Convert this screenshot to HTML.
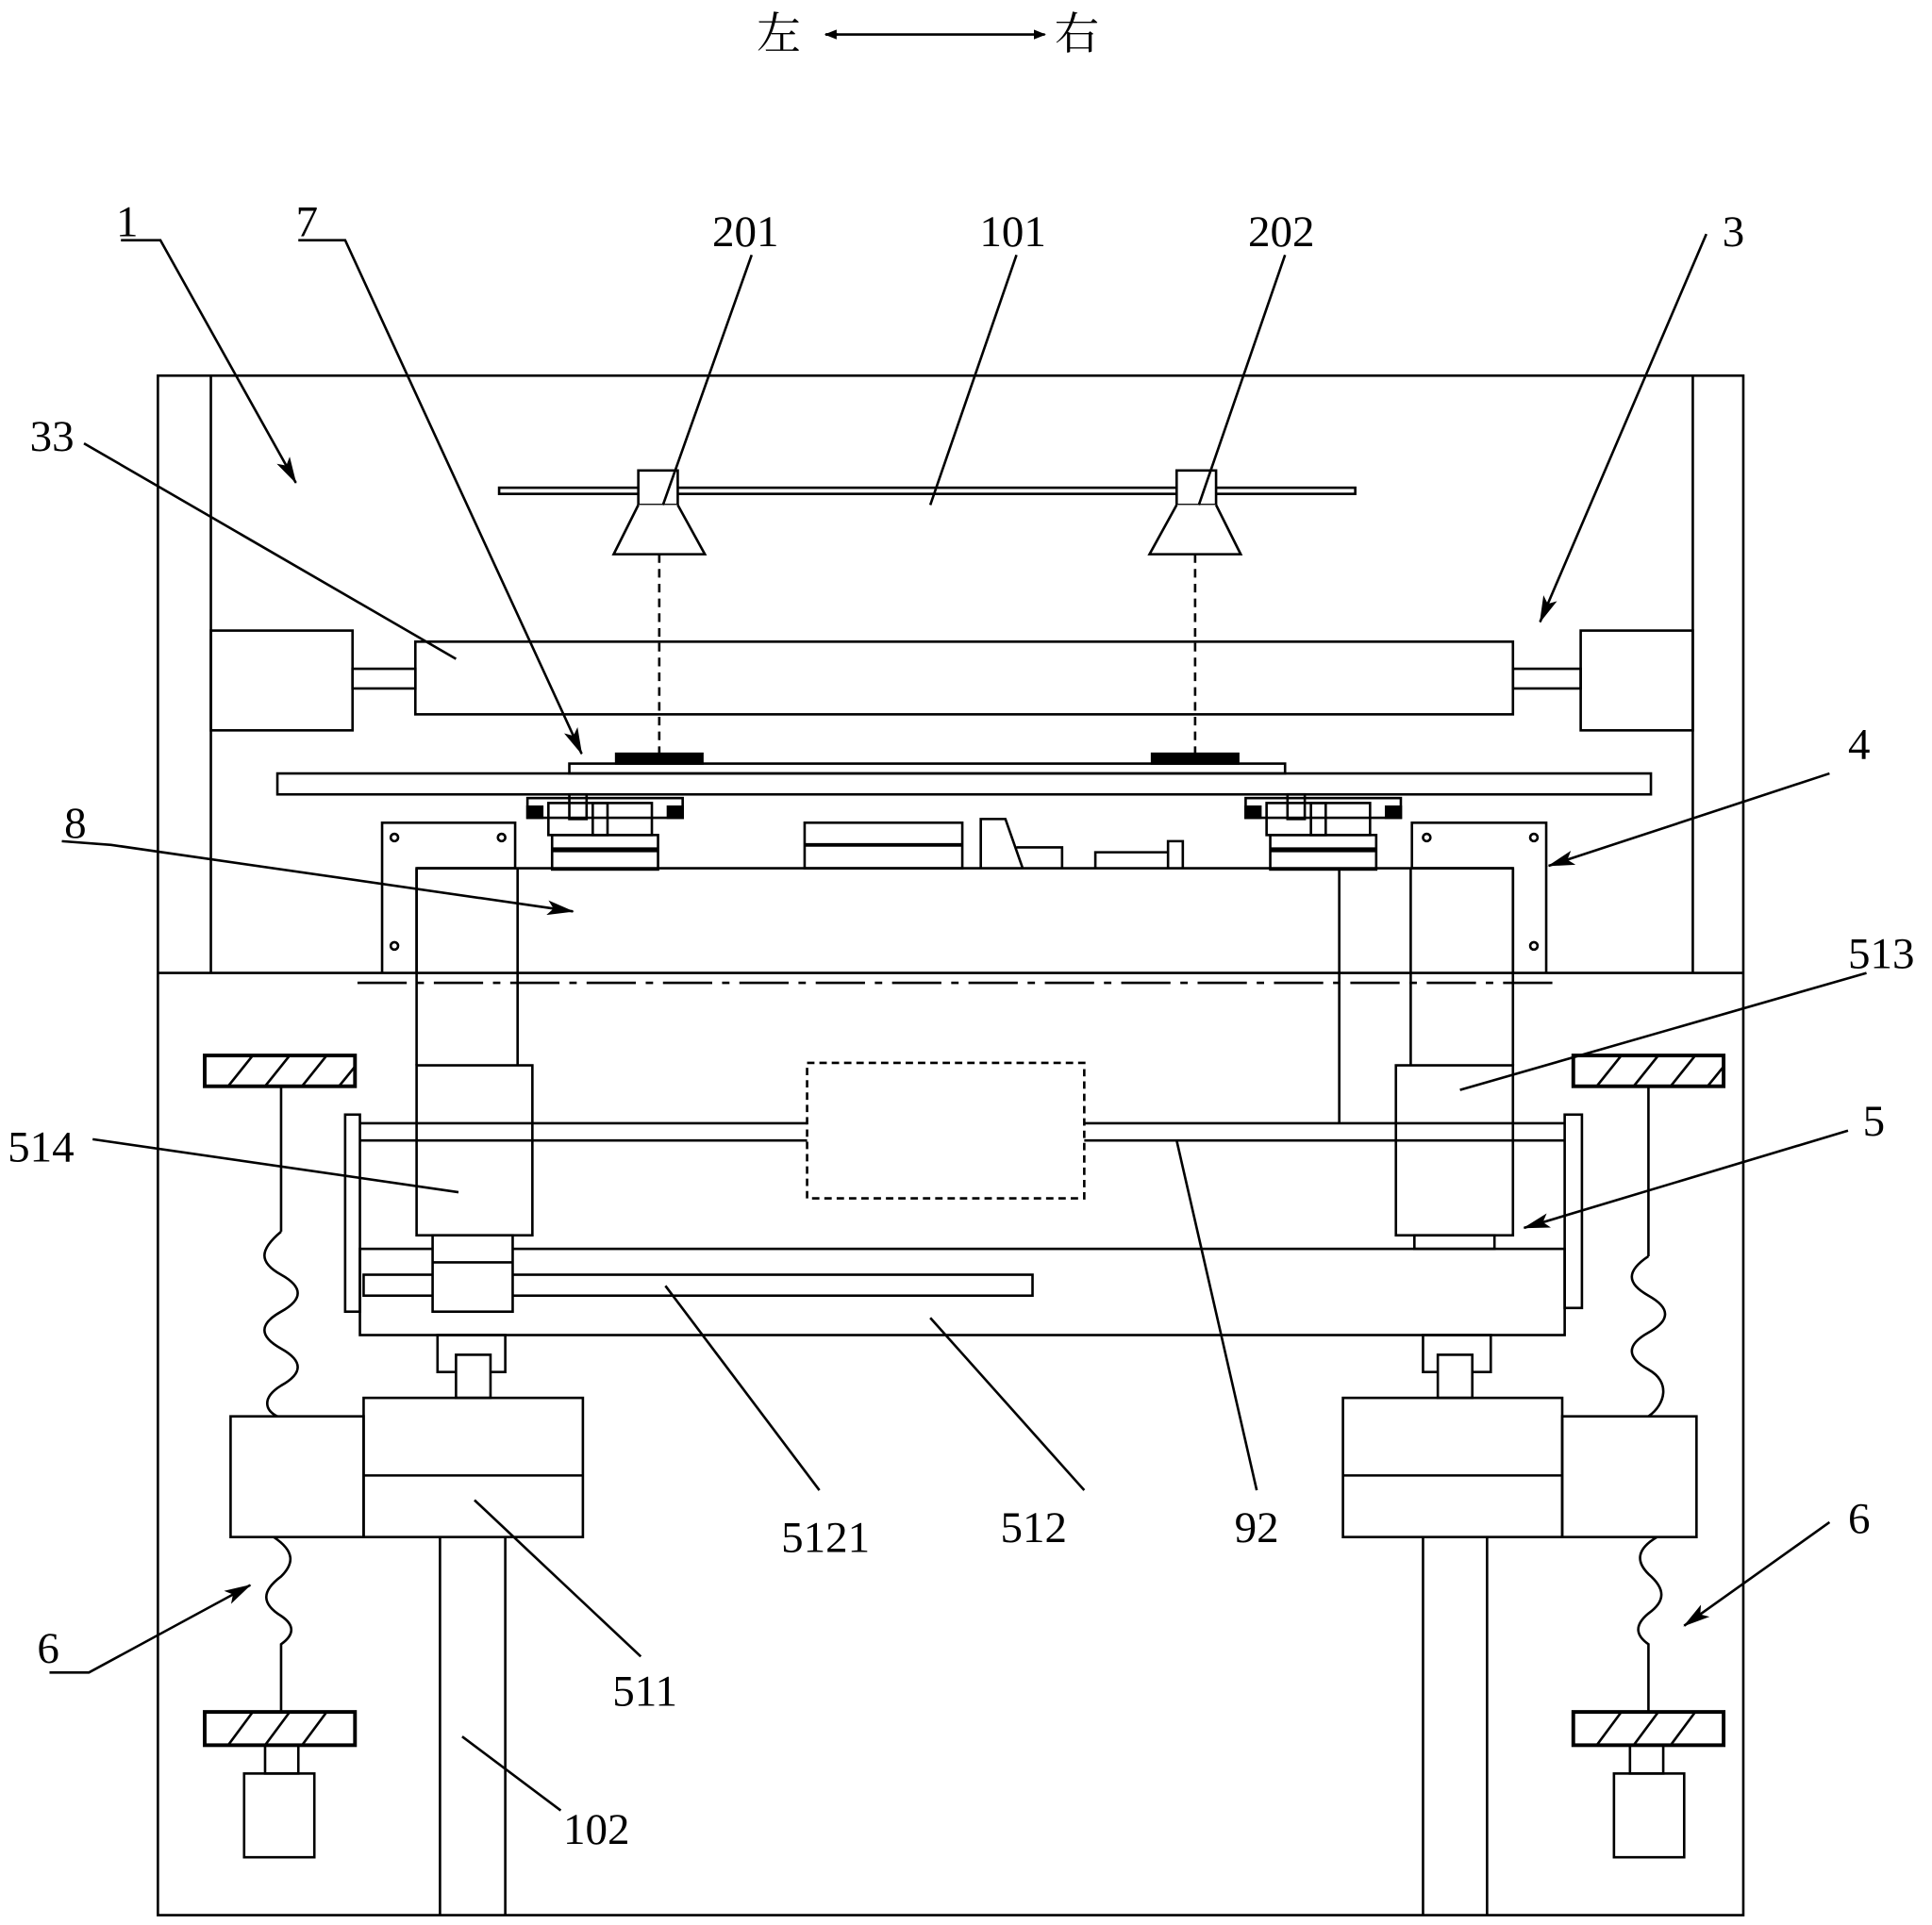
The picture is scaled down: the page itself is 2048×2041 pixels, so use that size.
<!DOCTYPE html>
<html><head><meta charset="utf-8"><style>html,body{margin:0;padding:0;background:#fff}svg{display:block}
text{font-family:"Liberation Serif","Noto Serif CJK SC",serif;font-size:36px;fill:#000}</style></head><body>
<svg width="2048" height="2041" viewBox="0 0 1568 1563" xmlns="http://www.w3.org/2000/svg">
<defs><marker id="a" markerWidth="10" markerHeight="8" refX="9" refY="4" orient="auto" markerUnits="userSpaceOnUse"><path d="M0,0 L10,4 L0,8 Z" fill="#000"/></marker>
<marker id="b" markerWidth="22" markerHeight="12" refX="21" refY="6" orient="auto" markerUnits="userSpaceOnUse"><path d="M0,0 L22,6 L0,12 L5,6 Z" fill="#000"/></marker></defs>
<g fill="none" stroke="#000" stroke-width="2">
<!-- direction -->
<text x="614" y="40" stroke="none">左</text><text x="856" y="40" stroke="none">右</text>
<line x1="680" y1="28" x2="670" y2="28" marker-end="url(#a)"/><line x1="670" y1="28" x2="848" y2="28" marker-end="url(#a)"/>
<!-- frame -->
<rect x="128" y="305" width="1287" height="1250"/>
<line x1="128" y1="790" x2="1415" y2="790"/>
<line x1="171" y1="305" x2="171" y2="790"/><line x1="1374" y1="305" x2="1374" y2="790"/>
<!-- 101 rail & nozzles -->
<rect x="405" y="396" width="695" height="5"/>
<rect x="518" y="382" width="32" height="28" fill="#fff"/><path d="M518,410 L498,450 L572,450 L550,410" fill="#fff"/>
<rect x="955" y="382" width="32" height="28" fill="#fff"/><path d="M955,410 L933,450 L1007,450 L987,410" fill="#fff"/>
<g stroke-dasharray="7,5"><line x1="535" y1="450" x2="535" y2="620"/><line x1="970" y1="450" x2="970" y2="620"/></g>
<!-- 33 -->
<rect x="337" y="521" width="891" height="59"/>
<rect x="171" y="512" width="115" height="81"/><rect x="286" y="543" width="51" height="16"/>
<rect x="1283" y="512" width="91" height="81"/><rect x="1228" y="543" width="55" height="16"/>
<!-- 7 plates -->
<rect x="462" y="620" width="581" height="8"/>
<rect x="500" y="612" width="70" height="8" fill="#000"/><rect x="935" y="612" width="70" height="8" fill="#000"/>
<rect x="225" y="628" width="1115" height="17"/>
<!-- carriages -->
<g id="car">
<rect x="428" y="648" width="126" height="16"/><rect x="428" y="655" width="12" height="9" fill="#000"/><rect x="542" y="655" width="12" height="9" fill="#000"/>
<rect x="445" y="652" width="48" height="26"/><rect x="462" y="645" width="14" height="20"/><rect x="481" y="652" width="48" height="26"/>
<rect x="448" y="678" width="86" height="28"/><line x1="448" y1="690" x2="534" y2="690" stroke-width="4"/>
</g>
<use href="#car" transform="translate(583,0)"/>
<!-- middle parts -->
<rect x="653" y="668" width="128" height="37"/><line x1="653" y1="686" x2="781" y2="686" stroke-width="3"/>
<path d="M796,705 L796,665 L816,665 L830,705 M825,688 L862,688 L862,705"/>
<path d="M889,705 L889,692 L948,692 L948,705 M948,692 L948,683 L960,683 L960,705"/>
<!-- brackets 4 -->
<path d="M310,790 L310,668 L418,668 L418,705 L338,705 L338,790" /><circle cx="320" cy="680" r="3"/><circle cx="407" cy="680" r="3"/><circle cx="320" cy="768" r="3"/>
<path d="M1255,790 L1255,668 L1146,668 L1146,705 L1228,705 L1228,790"/><circle cx="1158" cy="680" r="3"/><circle cx="1245" cy="680" r="3"/><circle cx="1245" cy="768" r="3"/>
<!-- frame 8 -->
<line x1="338" y1="705" x2="1228" y2="705"/>
<line x1="338" y1="705" x2="338" y2="865"/><line x1="420" y1="705" x2="420" y2="865"/>
<line x1="1145" y1="705" x2="1145" y2="865"/><line x1="1228" y1="705" x2="1228" y2="865"/>
<line x1="1087" y1="705" x2="1087" y2="912"/>
<line x1="290" y1="798" x2="1265" y2="798" stroke-dasharray="40,8,6,8"/>
<rect x="338" y="865" width="94" height="138"/><rect x="1133" y="865" width="95" height="138"/>
<rect x="1148" y="1003" width="65" height="11"/>
<!-- shaft 92 -->
<path d="M292,912 L655,912 M292,926 L655,926 M880,912 L1270,912 M880,926 L1270,926"/>
<rect x="655" y="863" width="225" height="110" stroke-dasharray="6,4"/>
<rect x="280" y="905" width="12" height="160"/><rect x="1270" y="905" width="14" height="157"/>
<!-- 512 -->
<rect x="292" y="1014" width="978" height="70"/>
<rect x="295" y="1035" width="543" height="17"/>
<rect x="351" y="1003" width="65" height="62" fill="#fff"/><line x1="351" y1="1025" x2="416" y2="1025"/>
<!-- lower left -->
<rect x="355" y="1084" width="55" height="30"/><rect x="370" y="1100" width="28" height="35" fill="#fff"/>
<rect x="295" y="1135" width="178" height="113"/><line x1="295" y1="1198" x2="473" y2="1198"/>
<rect x="187" y="1150" width="108" height="98"/>
<line x1="357" y1="1248" x2="357" y2="1555"/><line x1="410" y1="1248" x2="410" y2="1555"/>
<!-- lower right -->
<rect x="1155" y="1084" width="55" height="30"/><rect x="1167" y="1100" width="28" height="35" fill="#fff"/>
<rect x="1090" y="1135" width="178" height="113"/><line x1="1090" y1="1198" x2="1268" y2="1198"/>
<rect x="1268" y="1150" width="109" height="98"/>
<line x1="1155" y1="1248" x2="1155" y2="1555"/><line x1="1207" y1="1248" x2="1207" y2="1555"/>
<!-- springs left -->
<rect x="166" y="857" width="122" height="25" stroke-width="3"/>
<path d="M185,882 L205,857 M215,882 L235,857 M245,882 L265,857 M275,882 L288,866" />
<line x1="228" y1="882" x2="228" y2="1000"/>
<path d="M228,1000 C210,1015 210,1025 228,1035 C246,1045 246,1055 228,1065 C210,1075 210,1085 228,1095 C246,1105 246,1115 228,1125 C212,1135 215,1145 225,1150"/>
<path d="M222,1248 C240,1260 238,1270 228,1280 C212,1292 212,1302 228,1312 C240,1320 238,1328 228,1335 L228,1390"/>
<rect x="166" y="1390" width="122" height="27" stroke-width="3"/>
<path d="M185,1417 L205,1390 M215,1417 L235,1390 M245,1417 L265,1390"/>
<rect x="215" y="1417" width="27" height="23"/><rect x="198" y="1440" width="57" height="68"/>
<!-- springs right -->
<rect x="1277" y="857" width="122" height="25" stroke-width="3"/>
<path d="M1296,882 L1316,857 M1326,882 L1346,857 M1356,882 L1376,857 M1386,882 L1399,866"/>
<line x1="1338" y1="882" x2="1338" y2="1020"/>
<path d="M1338,1020 C1320,1032 1320,1042 1338,1052 C1356,1062 1356,1072 1338,1082 C1320,1092 1320,1102 1338,1112 C1356,1122 1352,1140 1338,1150"/>
<path d="M1345,1248 C1328,1258 1328,1268 1338,1278 C1352,1290 1352,1300 1338,1310 C1326,1320 1328,1328 1338,1335 L1338,1390"/>
<rect x="1277" y="1390" width="122" height="27" stroke-width="3"/>
<path d="M1296,1417 L1316,1390 M1326,1417 L1346,1390 M1356,1417 L1376,1390"/>
<rect x="1323" y="1417" width="27" height="23"/><rect x="1310" y="1440" width="57" height="68"/>
<!-- leader lines -->
<path d="M98,195 L130,195 L240,392" marker-end="url(#b)"/>
<path d="M242,195 L280,195 L472,612" marker-end="url(#b)"/>
<path d="M1385,190 L1250,505" marker-end="url(#b)"/>
<path d="M1485,628 L1257,703" marker-end="url(#b)"/>
<path d="M50,683 L90,686 L465,740" marker-end="url(#b)"/>
<path d="M1500,918 L1237,997" marker-end="url(#b)"/>
<path d="M1485,1236 L1367,1320" marker-end="url(#b)"/>
<path d="M40,1358 L72,1358 L203,1287" marker-end="url(#b)"/>
<path d="M68,360 L370,535"/>
<path d="M610,207 L538,410"/><path d="M825,207 L755,410"/><path d="M1043,207 L973,410"/>
<path d="M1515,790 L1185,885"/><path d="M75,925 L372,968"/>
<path d="M540,1044 L665,1210"/><path d="M755,1070 L880,1210"/><path d="M955,926 L1020,1210"/>
<path d="M385,1218 L520,1345"/><path d="M375,1410 L455,1470"/>
</g>
<text x="94" y="192">1</text><text x="240" y="192">7</text><text x="578" y="200">201</text><text x="795" y="200">101</text><text x="1013" y="200">202</text><text x="1398" y="200">3</text>
<text x="24" y="366">33</text><text x="1500" y="616">4</text><text x="52" y="680">8</text><text x="1500" y="786">513</text>
<text x="1512" y="922">5</text><text x="6" y="943">514</text>
<text x="634" y="1260">5121</text><text x="812" y="1252">512</text><text x="1002" y="1252">92</text>
<text x="1500" y="1245">6</text><text x="30" y="1350">6</text><text x="497" y="1385">511</text><text x="457" y="1497">102</text>
</svg>
</body></html>
